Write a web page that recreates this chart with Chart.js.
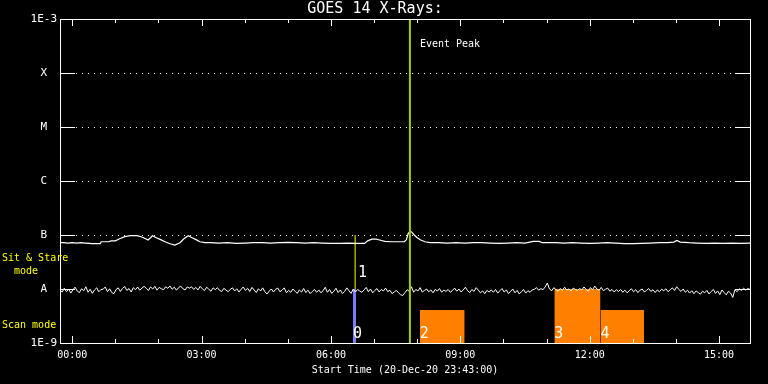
<!DOCTYPE html>
<html><head><meta charset="utf-8">
<script src="https://cdn.jsdelivr.net/npm/chart.js@4/dist/chart.umd.min.js"></script>
<style>html,body{margin:0;padding:0;background:#000;overflow:hidden}</style>
</head><body>
<canvas id="c" width="768" height="384"></canvas>
<script>
// ---- text ----
const titleText = 'GOES 14 X-Rays:';
const xAxisTitle = 'Start Time (20-Dec-20 23:43:00)';
const eventLabel = 'Event Peak';
const sitStareLabel = ['Sit & Stare', '  mode'];
const scanLabel = 'Scan mode';

// ---- axes (x in hours after 00:00, y flux in 1e-9 W/m^2) ----
const xMin = -17 / 60;
const xMax = 16 - 17 / 60;
const hourTicks = [0,1,2,3,4,5,6,7,8,9,10,11,12,13,14,15];
const yTickValues = [1, 10, 100, 1000, 10000, 100000, 1000000];
const yTickLabels = ['1E-9', 'A', 'B', 'C', 'M', 'X', '1E-3'];
const gridLevels = [100, 1000, 10000, 100000];

// ---- long channel (upper curve) ----
const longTimes = [-0.28,-0.2,-0.1,0,0.1,0.2,0.3,0.4,0.45,0.55,0.65,0.67,0.85,0.9,1.0,1.1,1.22,1.35,1.5,1.6,1.7,1.76,1.81,1.86,1.95,2.05,2.15,2.27,2.38,2.5,2.59,2.69,2.78,2.87,2.96,3.08,3.2,3.4,3.6,3.8,4.0,4.2,4.4,4.6,4.8,5.0,5.2,5.4,5.6,5.8,6.0,6.2,6.4,6.6,6.78,6.85,6.95,7.05,7.15,7.25,7.4,7.55,7.7,7.75,7.79,7.84,7.88,7.93,8.0,8.08,8.18,8.3,8.5,8.7,8.9,9.1,9.3,9.5,9.7,9.9,10.1,10.3,10.5,10.69,10.83,10.9,11.0,11.2,11.4,11.6,11.8,12.0,12.2,12.4,12.6,12.8,13.0,13.2,13.4,13.6,13.8,13.95,14.02,14.1,14.3,14.5,14.7,14.9,15.1,15.3,15.5,15.72];
const longFlux = [72,72,71,72,71,72,71,70,69,69,69,75,75,78,78,85,93,97,97,93,85,81,88,97,89,82,75,69,65,72,85,97,89,82,75,72,72,71,72,70,71,72,72,71,72,73,72,71,72,71,70,70,71,70,70,78,84,84,80,76,75,75,75,82,106,118,112,100,89,81,75,72,72,71,72,71,72,72,71,70,71,72,71,76,76,72,72,72,71,72,71,70,71,72,71,69,69,70,71,72,72,74,79,74,72,71,70,71,70,71,70,71];

// ---- short channel (lower curve), 3-minute cadence from 23:43 ----
const shortStart = -17 / 60;
const shortCadence = 3 / 60;
const shortFlux = [
 9.6,8.8,10.3,8.9,9.9,8.4,9.7,10.8,9.1,8.6,10.1,9.3,11.0,8.7,9.9,8.3,9.6,10.5,8.9,9.8,
 9.9,10.9,8.9,10.1,8.6,8.2,9.8,10.5,9.0,10.3,11.1,9.4,10.2,8.8,10.6,9.7,10.9,9.5,10.4,11.2,
 10.3,9.4,10.9,10.0,11.2,9.5,10.7,10.1,9.7,11.0,10.3,11.4,9.9,10.8,9.5,10.6,11.3,10.1,9.6,10.9,
 10.4,11.0,9.8,10.7,9.6,11.2,10.1,9.3,10.8,9.9,9.1,10.5,9.7,10.6,9.4,9.0,10.3,9.5,8.9,9.9,
 10.5,9.2,10.1,8.8,9.9,10.9,9.4,10.3,9.0,10.7,9.6,8.6,10.1,9.2,10.5,8.9,8.1,9.1,10.0,8.8,
 9.9,10.4,8.9,9.5,10.5,8.5,9.4,8.7,10.0,9.1,8.3,9.6,8.8,10.2,8.6,9.5,8.2,9.0,9.8,8.7,
 9.6,8.5,9.3,10.8,8.7,9.8,8.3,9.1,10.3,8.6,9.6,8.2,9.0,10.5,9.3,8.3,10.0,8.8,9.8,9.2,
 8.7,9.6,10.7,8.9,10.0,8.5,9.4,10.2,8.8,9.8,9.2,10.4,8.9,9.5,8.2,8.8,9.4,8.5,7.8,7.6,
 8.6,9.7,9.0,11.0,8.7,9.8,9.2,10.6,8.8,9.4,10.0,8.9,9.6,8.5,9.8,9.2,10.2,8.7,9.6,9.0,
 9.8,8.7,9.4,10.4,9.1,10.0,8.8,9.6,10.8,9.3,8.6,9.8,9.0,10.6,9.5,8.5,9.2,8.2,9.4,8.8,
 9.6,8.7,9.8,8.4,9.3,10.2,8.8,9.6,8.2,9.1,10.0,8.5,9.4,8.1,8.9,9.8,8.4,9.3,8.7,9.6,
 9.9,10.6,9.5,10.2,9.7,10.9,12.9,10.0,9.3,10.6,9.8,9.1,10.2,9.4,10.8,9.6,10.0,9.2,10.4,9.8,
 9.4,10.2,9.6,10.9,9.8,9.1,10.6,9.7,11.3,10.0,9.5,10.7,9.3,9.9,10.4,9.1,9.8,8.8,9.7,9.0,
 9.8,8.7,9.5,8.5,9.3,10.1,8.9,9.7,8.6,9.5,10.0,8.8,9.4,10.2,9.0,9.7,8.6,9.6,8.9,9.9,
 9.3,10.1,8.9,9.7,10.5,9.4,11.0,9.8,9.0,10.0,8.7,9.5,8.4,9.3,8.2,9.2,8.6,8.0,9.1,8.5,
 9.4,8.1,9.0,9.8,8.3,9.2,7.9,9.6,8.6,7.8,9.1,8.4,7.0,9.7,8.9,10.1,9.4,10.3,9.6,10.2,
 9.8
];

// ---- event peak ----
const eventPeakTime = 7.83;

// ---- observations ----
const obsLabels = ['0', '1', '2', '3', '4'];
const obsMode = ['scan', 'sit', 'scan', 'scan', 'scan'];
const obsStart = [6.51, 6.56, 8.06, 11.18, 12.25];
const obsEnd = [6.58, 6.56, 9.10, 12.25, 13.26];
const obsLow = [1, 10, 1, 1, 1];
const obsHigh = [10, 100, 4.1, 10, 4.1];
const obsColors = ['#7b7bff', '#ffff00', '#ff8000', '#ff8000', '#ff8000'];

// ---- styles ----
const FONT = "'DejaVu Sans Mono', monospace";
const WHITE = '#ffffff';
const PEAK_COLOR = '#9fd200';
const YELLOW = '#ffff00';

const datasets = [];
datasets.push({
  data: [{x: eventPeakTime, y: 1}, {x: eventPeakTime, y: 1e6}],
  borderColor: PEAK_COLOR, borderWidth: 2, pointRadius: 0, fill: false
});
obsLabels.forEach((lab, i) => {
  if (obsStart[i] === obsEnd[i]) {
    datasets.push({
      data: [{x: obsStart[i], y: obsLow[i]}, {x: obsStart[i], y: obsHigh[i]}],
      borderColor: obsColors[i], borderWidth: 1, pointRadius: 0, fill: false
    });
  }
});
datasets.push({
  data: longTimes.map((t, i) => ({x: t, y: longFlux[i]})),
  borderColor: WHITE, borderWidth: 1.2, pointRadius: 0, fill: false, tension: 0
});
datasets.push({
  data: shortFlux.map((v, i) => ({x: shortStart + i * shortCadence, y: v})),
  borderColor: WHITE, borderWidth: 1, pointRadius: 0, fill: false, tension: 0
});
obsLabels.forEach((lab, i) => {
  if (obsStart[i] !== obsEnd[i]) {
    datasets.push({
      data: [{x: obsStart[i], y: obsHigh[i]}, {x: obsEnd[i], y: obsHigh[i]}],
      borderWidth: 0, borderColor: 'rgba(0,0,0,0)', backgroundColor: obsColors[i],
      pointRadius: 0, fill: {value: obsLow[i]}
    });
  }
});

const overlay = {
  id: 'overlay',
  beforeDatasetsDraw(chart) {
    const {ctx, chartArea: a, scales: {y}} = chart;
    ctx.save();
    ctx.strokeStyle = WHITE; ctx.lineWidth = 1; ctx.setLineDash([1, 5]);
    gridLevels.forEach(v => {
      const py = Math.round(y.getPixelForValue(v)) + 0.5;
      ctx.beginPath(); ctx.moveTo(a.left + 16, py); ctx.lineTo(a.right - 14, py); ctx.stroke();
    });
    ctx.restore();
  },
  afterDatasetsDraw(chart) {
    const {ctx, chartArea: a, scales: {x, y}} = chart;
    ctx.save();
    ctx.strokeStyle = WHITE; ctx.lineWidth = 1;
    ctx.strokeRect(Math.round(a.left) + 0.5, Math.round(a.top) + 0.5,
                   Math.round(a.right - a.left), Math.round(a.bottom - a.top));
    ctx.beginPath();
    yTickValues.slice(1, -1).forEach(v => {
      const py = Math.round(y.getPixelForValue(v)) + 0.5;
      ctx.moveTo(a.left, py); ctx.lineTo(a.left + 15, py);
      ctx.moveTo(a.right - 15, py); ctx.lineTo(a.right, py);
    });
    hourTicks.forEach(h => {
      const px = Math.round(x.getPixelForValue(h)) + 0.5;
      const len = h % 3 === 0 ? 7 : 4;
      ctx.moveTo(px, a.top); ctx.lineTo(px, a.top + len);
      ctx.moveTo(px, a.bottom); ctx.lineTo(px, a.bottom - len);
    });
    ctx.stroke();

    // event label
    ctx.fillStyle = WHITE;
    ctx.font = '10px ' + FONT;
    ctx.textBaseline = 'alphabetic'; ctx.textAlign = 'left';
    ctx.fillText(eventLabel, x.getPixelForValue(eventPeakTime) + 10, a.top + 28);

    // observation numbers
    ctx.font = '15px ' + FONT;
    obsLabels.forEach((lab, i) => {
      const px = x.getPixelForValue(obsStart[i]) + (obsMode[i] === 'sit' ? 3 : 0);
      const py = y.getPixelForValue(obsLow[i]) - (obsMode[i] === 'sit' ? 12 : 5);
      ctx.fillText(lab, px, py);
    });

    // mode labels
    ctx.fillStyle = YELLOW;
    ctx.font = '10px ' + FONT;
    ctx.textBaseline = 'middle';
    const sitMid = y.getPixelForValue(Math.sqrt(10 * 100));
    ctx.fillText(sitStareLabel[0], 2, sitMid - 4);
    ctx.fillText(sitStareLabel[1], 2, sitMid + 9);
    ctx.fillText(scanLabel, 2, y.getPixelForValue(3) + 8);
    ctx.restore();
  }
};

new Chart(document.getElementById('c'), {
  type: 'line',
  data: {datasets},
  options: {
    responsive: false, animation: false, devicePixelRatio: 1,
    layout: {padding: {top: 0, right: 18, bottom: 0, left: 0}},
    plugins: {
      legend: {display: false}, tooltip: {enabled: false},
      title: {display: true, text: titleText, color: WHITE,
              font: {family: FONT, size: 15, weight: 'normal'}, padding: {top: 0.5, bottom: 0.5}}
    },
    scales: {
      x: {
        type: 'linear', min: xMin, max: xMax,
        grid: {display: false, drawTicks: false}, border: {display: false},
        afterBuildTicks: s => { s.ticks = hourTicks.map(v => ({value: v})); },
        afterFit: s => { s.height = 41; },
        ticks: {color: WHITE, font: {family: FONT, size: 10}, padding: 6, maxRotation: 0, autoSkip: false,
                callback: v => (v % 3 === 0 ? String(v).padStart(2, '0') + ':00' : '')},
        title: {display: true, text: xAxisTitle, color: WHITE, font: {family: FONT, size: 10},
                padding: {top: 0, bottom: 8}}
      },
      y: {
        type: 'logarithmic', min: 1, max: 1e6,
        grid: {display: false, drawTicks: false}, border: {display: false},
        afterBuildTicks: s => { s.ticks = yTickValues.map(v => ({value: v})); },
        afterFit: s => { s.width = 60; },
        ticks: {color: WHITE, font: {family: FONT, size: 11}, padding: 3, crossAlign: 'center', autoSkip: false,
                callback: v => yTickLabels[yTickValues.indexOf(v)]}
      }
    }
  },
  plugins: [overlay]
});
</script>
</body></html>
